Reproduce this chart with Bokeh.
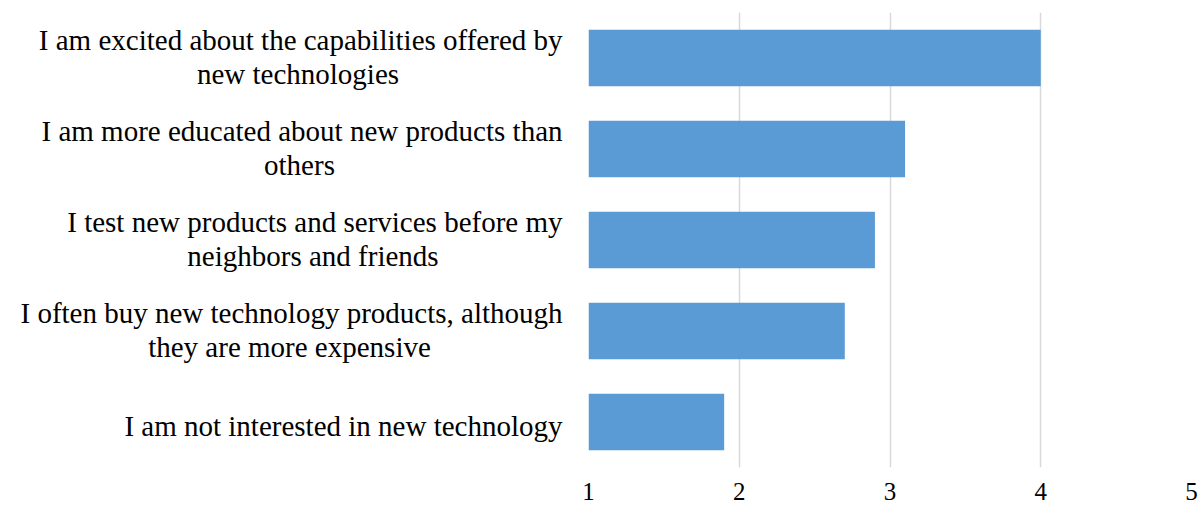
from bokeh.plotting import figure
from bokeh.layouts import row
from bokeh.models import FactorRange, Range1d, ColumnDataSource, FixedTicker
from bokeh.core.properties import value
from bokeh.embed import file_html
from bokeh.resources import INLINE

categories = [
    "I am excited about the capabilities offered by\nnew technologies",
    "I am more educated about new products than\nothers",
    "I test new products and services before my\nneighbors and friends",
    "I often buy new technology products, although\nthey are more expensive",
    "I am not interested in new technology",
]
values = [4.0, 3.1, 2.9, 2.7, 1.9]
x_ticks = [1, 2, 3, 4, 5]

# layout of the wrapped labels (pixels in the label panel): right edge of first line,
# centre of the second line (Excel centres wrapped lines inside a right-aligned block)
LABEL_RIGHT = 562
line2_centre = [297.5, 299, 312.5, 289, 0]

BAR = "#5B9BD5"
FONT = "Liberation Serif"

line1 = [c.split("\n")[0] for c in categories]
line2 = [c.split("\n")[1] if "\n" in c else "" for c in categories]
off1 = [-18 if l2 else 4 for l2 in line2]
off2 = [16 for _ in line2]

yr = FactorRange(factors=list(reversed(categories)), range_padding=0)
src = ColumnDataSource(dict(cat=categories, val=values, base=[1] * len(values),
                            l1=line1, l2=line2, o1=off1, o2=off2,
                            x1=[LABEL_RIGHT] * len(categories), x2=line2_centre))

# Left: category labels
left = figure(width=578, height=505, x_range=Range1d(0, 578), y_range=yr,
              output_backend="svg", toolbar_location=None,
              min_border_left=0, min_border_right=0, min_border_top=12, min_border_bottom=38)
left.axis.visible = False
left.grid.visible = False
left.outline_line_color = None
left.text(x="x1", y="cat", text="l1", y_offset="o1", source=src, text_align="right",
          text_baseline="middle", text_font=value(FONT), text_font_size="29px",
          text_color="#000000")
left.text(x="x2", y="cat", text="l2", y_offset="o2", source=src, text_align="center",
          text_baseline="middle", text_font=value(FONT), text_font_size="29px",
          text_color="#000000")

# Right: bars
p = figure(width=623, height=505, x_range=Range1d(1, 5), y_range=yr,
           output_backend="svg", toolbar_location=None,
           min_border_left=10, min_border_right=10, min_border_top=12, min_border_bottom=38)
p.hbar(y="cat", left="base", right="val", height=0.62, source=src, color=BAR, line_color=None)
p.yaxis.visible = False
p.ygrid.visible = False
p.xgrid.grid_line_color = "#D9D9D9"
p.xgrid.grid_line_width = 1.5
p.xaxis.ticker = FixedTicker(ticks=x_ticks)
p.xaxis.axis_line_color = None
p.xaxis.major_tick_line_color = None
p.xaxis.minor_tick_line_color = None
p.xaxis.major_tick_out = 0
p.xaxis.major_tick_in = 0
p.xaxis.major_label_standoff = 15
p.xaxis.major_label_text_font = FONT
p.xaxis.major_label_text_font_size = "25px"
p.xaxis.major_label_text_color = "#000000"
p.outline_line_color = None

layout = row(left, p)
open("out.html", "w").write(file_html(layout, INLINE))
